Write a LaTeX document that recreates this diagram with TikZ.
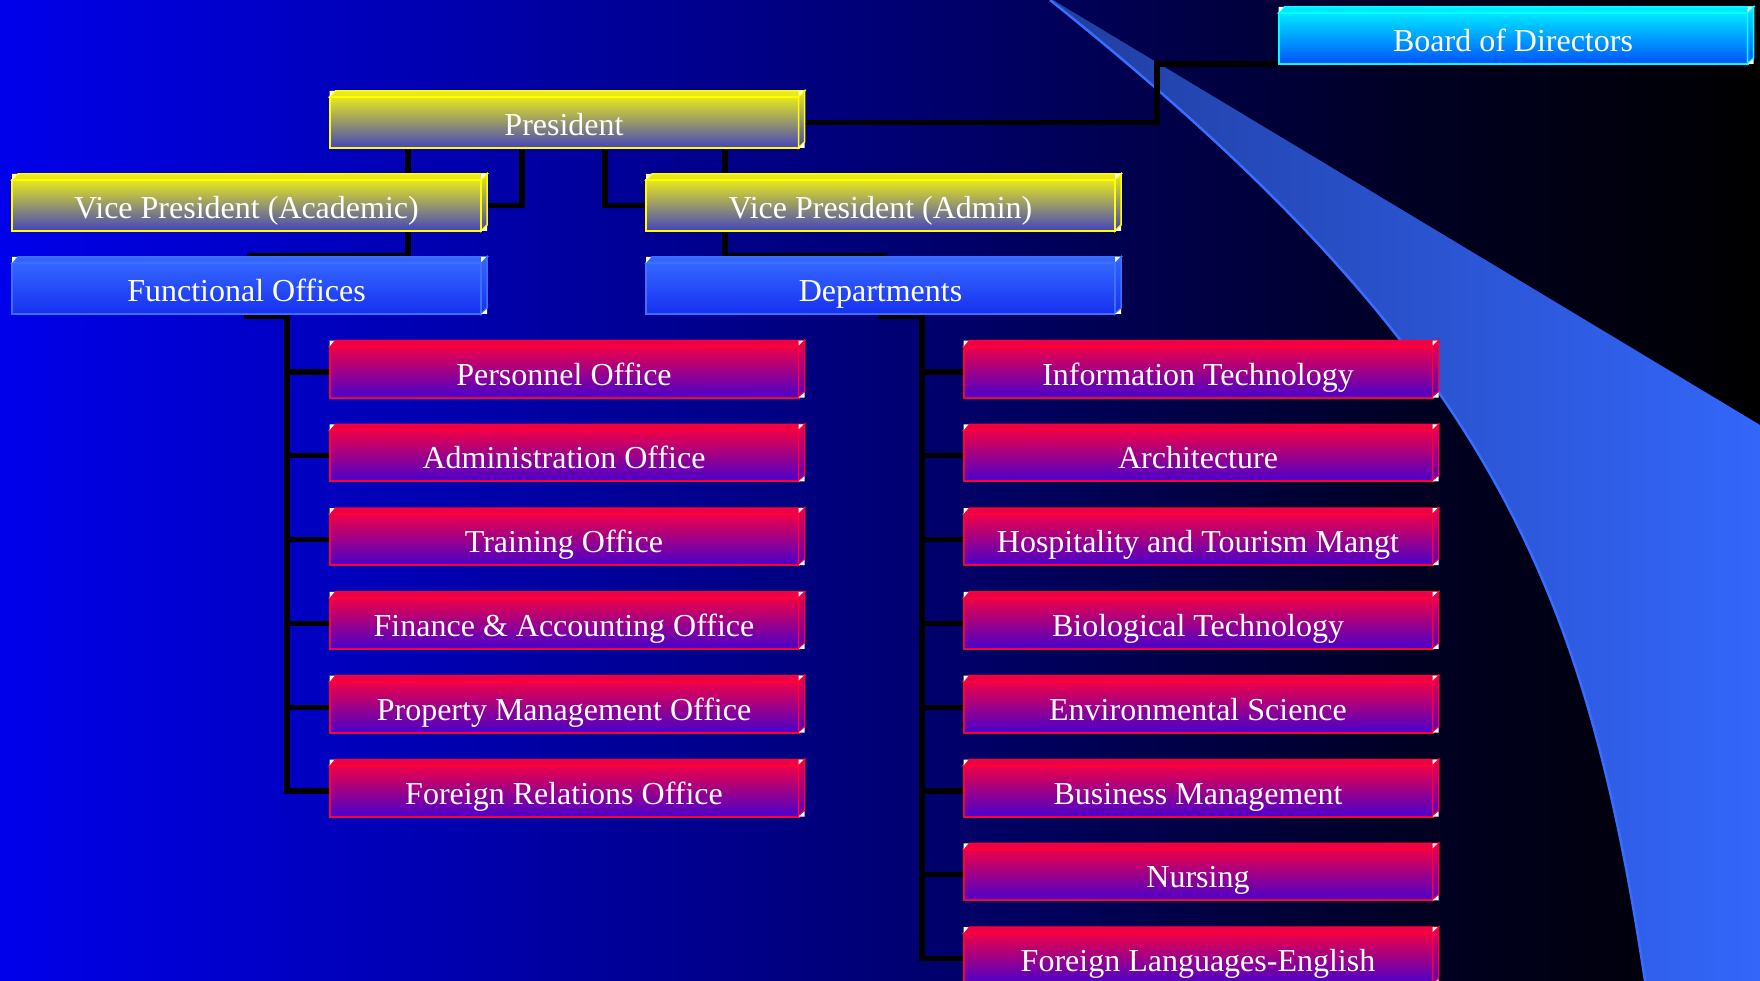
\documentclass[tikz,border=0pt]{standalone}
\usepackage{fontspec}
\setmainfont{Liberation Serif}
\usetikzlibrary{calc}
\pgfdeclarelayer{bg}
\pgfdeclarelayer{conn}
\pgfsetlayers{bg,conn,main}
\definecolor{bandL}{RGB}{32,62,160}
\definecolor{bandR}{RGB}{51,102,250}
\definecolor{bandEdge}{RGB}{55,110,255}
\definecolor{redT}{RGB}{238,0,72}
\definecolor{redL}{RGB}{72,0,205}
\definecolor{redB}{RGB}{255,0,50}
\definecolor{yelT}{RGB}{232,232,28}
\definecolor{yelL}{RGB}{66,66,190}
\definecolor{yelB}{RGB}{255,255,0}
\definecolor{bluT}{RGB}{52,102,255}
\definecolor{bluL}{RGB}{22,48,240}
\definecolor{bluB}{RGB}{62,112,255}
\definecolor{cyaT}{RGB}{0,232,255}
\definecolor{cyaL}{RGB}{0,80,255}
\definecolor{cyaB}{RGB}{0,255,255}
\pgfdeclarehorizontalshading{bgshade}{100bp}{rgb(0bp)=(0,0,0.92); rgb(25bp)=(0,0,0.92); rgb(50bp)=(0,0,0.46); rgb(65bp)=(0,0,0.14); rgb(75bp)=(0,0,0.0); rgb(100bp)=(0,0,0.0)}
\tikzset{
  box/.style={minimum width=469pt, minimum height=51pt, inner sep=0pt, outer sep=0pt,
    line width=2pt, text=white, font=\fontsize{32}{38}\selectfont, text height=32pt, text depth=6pt},
  rbxfront/.style={box, draw=redB, top color=redT, bottom color=redL},
  rbxtop/.style={draw=redB, fill=redT, line width=1.5pt},
  rbxside/.style={draw=redB, top color=redT, bottom color=redL, line width=1.5pt},
  ybxfront/.style={box, draw=yelB, top color=yelT, bottom color=yelL},
  ybxtop/.style={draw=yelB, fill=yelT, line width=1.5pt},
  ybxside/.style={draw=yelB, top color=yelT, bottom color=yelL, line width=1.5pt},
  bbxfront/.style={box, draw=bluB, top color=bluT, bottom color=bluL},
  bbxtop/.style={draw=bluB, fill=bluT, line width=1.5pt},
  bbxside/.style={draw=bluB, top color=bluT, bottom color=bluL, line width=1.5pt},
  cbxfront/.style={box, draw=cyaB, top color=cyaT, bottom color=cyaL},
  cbxtop/.style={draw=cyaB, fill=cyaT, line width=1.5pt},
  cbxside/.style={draw=cyaB, top color=cyaT, bottom color=cyaL, line width=1.5pt},
  conn/.style={draw=black, line width=5.3pt, line join=miter},
}
\newcommand\orgbox[5]{%
  \node[#2front] (#1) at (#3,#4) {#5};
  \filldraw[#2top] (#1.north west) -- ([xshift=6pt,yshift=6pt]#1.north west) -- ([xshift=6pt,yshift=6pt]#1.north east) -- (#1.north east) -- cycle;
  \filldraw[#2side] (#1.north east) -- ([xshift=6pt,yshift=6pt]#1.north east) -- ([xshift=6pt,yshift=6pt]#1.south east) -- (#1.south east) -- cycle;
  \fill[white] (#1.north west) -- ([yshift=6pt]#1.north west) -- ([xshift=5pt,yshift=6pt]#1.north west) -- cycle;
  \fill[white] ([yshift=1pt]#1.north east) -- ([yshift=6pt]#1.north east) -- ([xshift=5pt,yshift=6pt]#1.north east) -- cycle;
  \fill[white] (#1.south east) -- ([xshift=6pt]#1.south east) -- ([xshift=6pt,yshift=5pt]#1.south east) -- cycle;
}
\begin{document}
\begin{tikzpicture}[x=1pt,y=-1pt]
\useasboundingbox (0,0) rectangle (1760,981);
\begin{pgfonlayer}{bg}
  \fill[shading=bgshade] (0,0) rectangle (1760,981);
  \fill[left color=bandL, right color=bandR] (1053,0) -- (1760,425) -- (1760,981)
    -- (1645,981) .. controls (1585,581) and (1487,350) .. (1050,0) -- cycle;
  \draw[bandEdge, line width=2.5pt] (1645,981) .. controls (1585,581) and (1487,350) .. (1050,0);
\end{pgfonlayer}

\orgbox{board}{cbx}{1513}{38.5}{Board of Directors}
\orgbox{pres}{ybx}{564}{122.5}{President}
\orgbox{vpacad}{ybx}{246.5}{205.5}{Vice President (Academic)}
\orgbox{vpadmin}{ybx}{880.5}{205.5}{Vice President (Admin)}
\orgbox{fo}{bbx}{246.5}{288.5}{Functional Offices}
\orgbox{dept}{bbx}{880.5}{288.5}{Departments}

\orgbox{off1}{rbx}{564}{372}{Personnel Office}
\orgbox{off2}{rbx}{564}{455.8}{Administration Office}
\orgbox{off3}{rbx}{564}{539.6}{Training Office}
\orgbox{off4}{rbx}{564}{623.4}{Finance \& Accounting Office}
\orgbox{off5}{rbx}{564}{707.2}{Property Management Office}
\orgbox{off6}{rbx}{564}{791}{Foreign Relations Office}

\orgbox{dep1}{rbx}{1198}{372}{Information Technology}
\orgbox{dep2}{rbx}{1198}{455.8}{Architecture}
\orgbox{dep3}{rbx}{1198}{539.6}{Hospitality and Tourism Mangt}
\orgbox{dep4}{rbx}{1198}{623.4}{Biological Technology}
\orgbox{dep5}{rbx}{1198}{707.2}{Environmental Science}
\orgbox{dep6}{rbx}{1198}{791}{Business Management}
\orgbox{dep7}{rbx}{1198}{874.8}{Nursing}
\orgbox{dep8}{rbx}{1198}{958.6}{Foreign Languages-English}

\coordinate (bjx) at (1157,0);
\coordinate (x408) at (408,0);
\coordinate (x522) at (522,0);
\coordinate (x605) at (605,0);
\coordinate (x725) at (725,0);
\coordinate (fojoin) at (250,256);
\coordinate (dpjoin) at (884,256);
\coordinate (fobus) at (287,316.5);
\coordinate (dpbus) at (922,316.5);

\begin{pgfonlayer}{conn}
  \draw[conn] (board.south) -- (board.south -| bjx) |- (pres.east);
  \draw[conn] (pres.south -| x408) |- (fojoin) -- (fo.north -| fojoin);
  \draw[conn] (pres.south -| x522) |- (vpacad.east);
  \draw[conn] (pres.south -| x605) |- (vpadmin.west);
  \draw[conn] (pres.south -| x725) |- (dpjoin) -- (dept.north -| dpjoin);
  \foreach \k in {1,...,6} {
    \draw[conn] (fo.south) |- (fobus) |- (off\k.west);
  }
  \foreach \k in {1,...,8} {
    \draw[conn] (dept.south) |- (dpbus) |- (dep\k.west);
  }
\end{pgfonlayer}
\end{tikzpicture}
\end{document}
